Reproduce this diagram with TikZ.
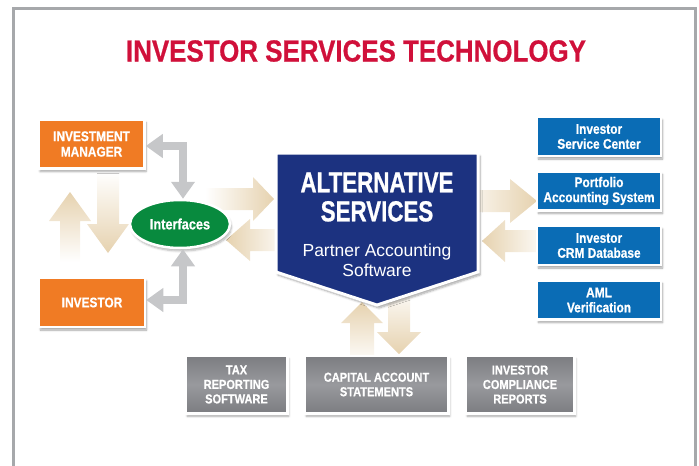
\documentclass[tikz,border=0pt]{standalone}
\usepackage{fontspec}
\setmainfont{Liberation Sans}
\newfontfamily\condfont{Liberation Sans}[FakeStretch=0.85,BoldFeatures={FakeBold=0.6}]
\newfontfamily\altfont{Liberation Sans}[FakeStretch=0.77,BoldFeatures={FakeBold=0.8}]
\usetikzlibrary{positioning,shapes.geometric,arrows.meta,shadows.blur}
\definecolor{myorange}{RGB}{240,123,36}
\definecolor{mygreen}{RGB}{8,138,62}
\definecolor{mynavy}{RGB}{28,50,128}
\definecolor{myblue}{RGB}{10,108,181}
\definecolor{mygray}{RGB}{124,125,129}
\definecolor{mylgray}{RGB}{152,153,157}
\definecolor{mytan}{RGB}{230,210,175}
\definecolor{myarrow}{RGB}{198,199,201}
\definecolor{myred}{RGB}{208,16,58}
\definecolor{myframe}{RGB}{166,168,171}

\begin{document}
\begin{tikzpicture}[x=1pt,y=-1pt,
  box/.style={rectangle,draw=white,line width=2.5pt,text=white,align=center,inner sep=0pt,
    blur shadow={shadow xshift=1.5pt,shadow yshift=-3pt,shadow opacity=35,shadow blur steps=6}},
  orbox/.style={box,fill=myorange,minimum width=106pt,minimum height=49pt,
    font=\condfont\bfseries\fontsize{14}{15.5}\selectfont},
  blbox/.style={box,fill=myblue,minimum width=124pt,minimum height=39pt,
    font=\condfont\bfseries\fontsize{14}{15}\selectfont},
  grbox/.style={box,top color=mygray,bottom color=mygray,middle color=mylgray,minimum height=57.5pt,
    font=\condfont\bfseries\fontsize{13}{14.5}\selectfont},
  ifnode/.style={ellipse,fill=mygreen,draw=white,line width=2.5pt,minimum width=100pt,minimum height=48pt,
    inner sep=0pt,text=white,font=\condfont\bfseries\fontsize{15}{18}\selectfont,
    blur shadow={shadow xshift=1.5pt,shadow yshift=-3pt,shadow opacity=30,shadow blur steps=6}},
  gconn/.style={myarrow,line width=8pt,{Triangle[length=17pt,width=23pt]}-{Triangle[length=17pt,width=23pt]}}]

  \useasboundingbox (0,0) rectangle (699,466);

  % frame and title
  \draw[myframe,line width=2.5pt] (13.5,470) -- (13.5,8.5) -- (695.5,8.5) -- (695.5,470);
  \node[text=myred,inner sep=0pt,font=\condfont\bfseries\fontsize{30.5}{32}\selectfont] (title) at (356,51)
    {INVESTOR SERVICES TECHNOLOGY};

  % tan arrows, left side
  \shade[top color=mytan,bottom color=white] (60,262) -- (60,221) -- (49,221) -- (70,192) -- (91,221) -- (80,221) -- (80,262) -- cycle;
  \shade[top color=white,bottom color=mytan] (97,172) -- (97,224) -- (87,224) -- (108,253) -- (129,224) -- (119,224) -- (119,172) -- cycle;
  \shade[left color=white,right color=mytan] (205,188) -- (253,188) -- (253,177) -- (274,199) -- (253,221) -- (253,210) -- (205,210) -- cycle;
  \shade[left color=mytan,right color=mytan!20] (278,229) -- (250,229) -- (250,219) -- (226,240) -- (250,261) -- (250,251) -- (278,251) -- cycle;

  % tan arrows, right side and bottom
  \shade[left color=mytan!20,right color=mytan] (470,190) -- (510,190) -- (510,179) -- (537,201) -- (510,223) -- (510,212) -- (470,212) -- cycle;
  \shade[left color=mytan,right color=mytan!15] (538,230) -- (505,230) -- (505,220) -- (482,241) -- (505,262) -- (505,252) -- (538,252) -- cycle;
  \shade[top color=mytan,bottom color=mytan!15] (350,355) -- (350,323) -- (341,323) -- (362,302) -- (383,323) -- (374,323) -- (374,355) -- cycle;
  \shade[top color=mytan!15,bottom color=mytan] (388,295) -- (388,332) -- (377,332) -- (399,354) -- (421,332) -- (410,332) -- (410,295) -- cycle;

  % central block
  \filldraw[fill=mynavy,draw=white,line width=3pt,
    blur shadow={shadow xshift=2pt,shadow yshift=-3pt,shadow opacity=35,shadow blur steps=6}]
    (276,153) -- (478,153) -- (478,272) -- (377,305) -- (276,272) -- cycle;
  \node[text=white,inner sep=0pt,align=center,font=\altfont\bfseries\fontsize{29}{29}\selectfont] (altname) at (377,197)
    {ALTERNATIVE\\SERVICES};
  \node[text=white,inner sep=0pt,align=center,font=\fontsize{17.5}{20}\selectfont] (altsub) at (377,260)
    {Partner Accounting\\Software};

  \node[orbox] (im) at (91.5,144) {INVESTMENT\\MANAGER};
  \node[orbox] (inv) at (92,302.5) {INVESTOR};
  \node[ifnode] (ifc) at (180,224) {Interfaces};

  \node[blbox] (isc) at (599,136.5) {Investor\\Service Center};
  \node[blbox,below=13pt of isc] (pas) {Portfolio\\Accounting System};
  \node[blbox,below=13pt of pas] (crm) {Investor\\CRM Database};
  \node[blbox,below=13pt of crm] (aml) {AML\\Verification};

  \node[grbox,minimum width=143.5pt] (cap) at (376.5,384.5) {CAPITAL ACCOUNT\\STATEMENTS};
  \node[grbox,minimum width=101.5pt,left=15pt of cap] (tax) {TAX\\REPORTING\\SOFTWARE};
  \node[grbox,minimum width=108.5pt,right=15pt of cap] (icr) {INVESTOR\\COMPLIANCE\\REPORTS};

  % gray links to the interfaces
  \draw[gconn] ([yshift=-2pt]im.east) -| ([xshift=3pt]ifc.north);
  \draw[gconn] ([yshift=2.5pt]inv.east) -| ([xshift=3pt]ifc.south);

\end{tikzpicture}
\end{document}
